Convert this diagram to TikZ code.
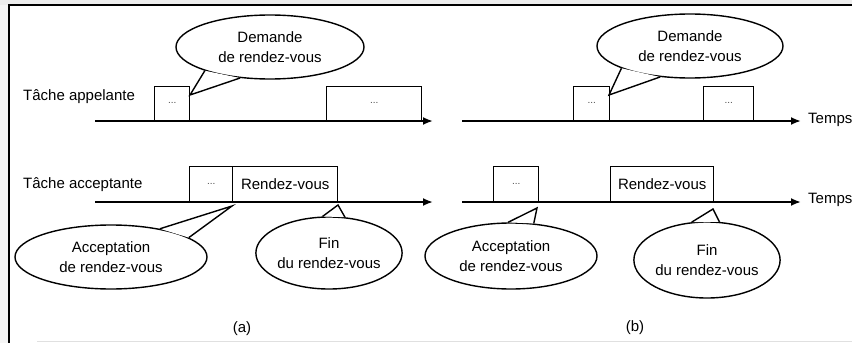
\documentclass[tikz,border=0pt]{standalone}
\usepackage{fontspec}
\setmainfont{Liberation Sans}
\usetikzlibrary{arrows.meta,shapes.geometric}

\tikzset{
  lbl/.style={font=\fontsize{15}{20}\selectfont, inner sep=0pt},
  axis/.style={line width=1.9pt, -{Latex[length=10pt,width=8pt]}},
  slot/.style={draw, line width=1.4pt, rectangle, inner sep=0pt, anchor=south west,
               font=\fontsize{15}{20}\selectfont},
  dots/.style={slot, font=\fontsize{10}{10}\selectfont\color{black!70}},
  bubble/.style={draw, fill=white, line width=1.4pt, ellipse, inner sep=0pt,
                 align=center, font=\fontsize{15}{20}\selectfont},
  tail/.style={line width=1.4pt, line join=miter},
}

% draws the wedge of a speech bubble from two border angles to a tip
\newcommand{\bubbletail}[4]{%
  \fill[white] (#1.#2) -- (#4) -- (#1.#3) -- cycle;
  \draw[tail] (#1.#2) -- (#4) -- (#1.#3);
}

\begin{document}
\begin{tikzpicture}[x=1pt,y=-1pt]
\useasboundingbox (0,0) rectangle (852,343);

% page edge and frame
\fill[black!7] (0,0) rectangle (852,5);
\fill[black!4] (0,5) rectangle (9,343);
\draw[line width=1.6pt] (852,5) -- (9,5) -- (9,343);
\draw[black!12, line width=0.8pt] (37,341.5) -- (852,341.5);

% ---------------- (a) ----------------
\node[lbl, anchor=west] (tapa) at (23,97) {Tâche appelante};
\node[lbl, anchor=west] (tacca) at (23,185) {Tâche acceptante};

\node[dots, minimum width=35pt, minimum height=34pt] (a1) at (154,121) {...};
\node[dots, minimum width=95pt, minimum height=34pt] (a2) at (326,121) {...};
\node[dots, minimum width=43pt, minimum height=35pt] (a3) at (189,202) {...};
\node[slot, minimum width=105pt, minimum height=35pt] (a4) at (232,202) {Rendez-vous};

\coordinate (axa1s) at (95,121);
\coordinate (axa1e) at (433,121);
\coordinate (axa2s) at (95,202);
\coordinate (axa2e) at (433,202);
\draw[axis] (axa1s) -- (axa1e);
\draw[axis] (axa2s) -- (axa2e);

\node[bubble, minimum width=188pt, minimum height=64pt] (dema) at (270,47)
  {Demande\\de rendez-vous};
\coordinate (ptdema) at (190,95);
\bubbletail{dema}{200}{226}{ptdema}

\node[bubble, minimum width=192pt, minimum height=64pt] (acca) at (111,257)
  {Acceptation\\de rendez-vous};
\coordinate (ptacca) at (232,206);
\bubbletail{acca}{30}{14}{ptacca}

\node[bubble, minimum width=138pt, minimum height=72pt] (fina) at (329,253)
  {Fin\\du rendez-vous};
\coordinate (ptfina) at (338,205);
\bubbletail{fina}{100}{66}{ptfina}

\node[lbl] (capa) at (242,329) {(a)};

% ---------------- (b) ----------------
\node[dots, minimum width=36pt, minimum height=34pt] (b1) at (573,121) {...};
\node[dots, minimum width=50pt, minimum height=34pt] (b2) at (703,121) {...};
\node[dots, minimum width=45pt, minimum height=35pt] (b3) at (493,202) {...};
\node[slot, minimum width=103pt, minimum height=35pt] (b4) at (610,202) {Rendez-vous};

\coordinate (axb1s) at (462,121);
\coordinate (axb1e) at (801,121);
\coordinate (axb2s) at (462,202);
\coordinate (axb2e) at (801,202);
\draw[axis] (axb1s) -- (axb1e);
\draw[axis] (axb2s) -- (axb2e);
\node[lbl, anchor=west] (tb1) at (808,120) {Temps};
\node[lbl, anchor=west] (tb2) at (808,200) {Temps};

\node[bubble, minimum width=186pt, minimum height=64pt] (demb) at (690,46)
  {Demande\\de rendez-vous};
\coordinate (ptdemb) at (609,95);
\bubbletail{demb}{198}{226}{ptdemb}

\node[bubble, minimum width=172pt, minimum height=66pt] (accb) at (511,256)
  {Acceptation\\de rendez-vous};
\coordinate (ptaccb) at (537,208);
\bubbletail{accb}{95}{55}{ptaccb}

\node[bubble, minimum width=140pt, minimum height=76pt] (finb) at (707,260)
  {Fin\\du rendez-vous};
\coordinate (ptfinb) at (713,209);
\bubbletail{finb}{112}{72}{ptfinb}

\node[lbl] (capb) at (635,328) {(b)};
\end{tikzpicture}
\end{document}
